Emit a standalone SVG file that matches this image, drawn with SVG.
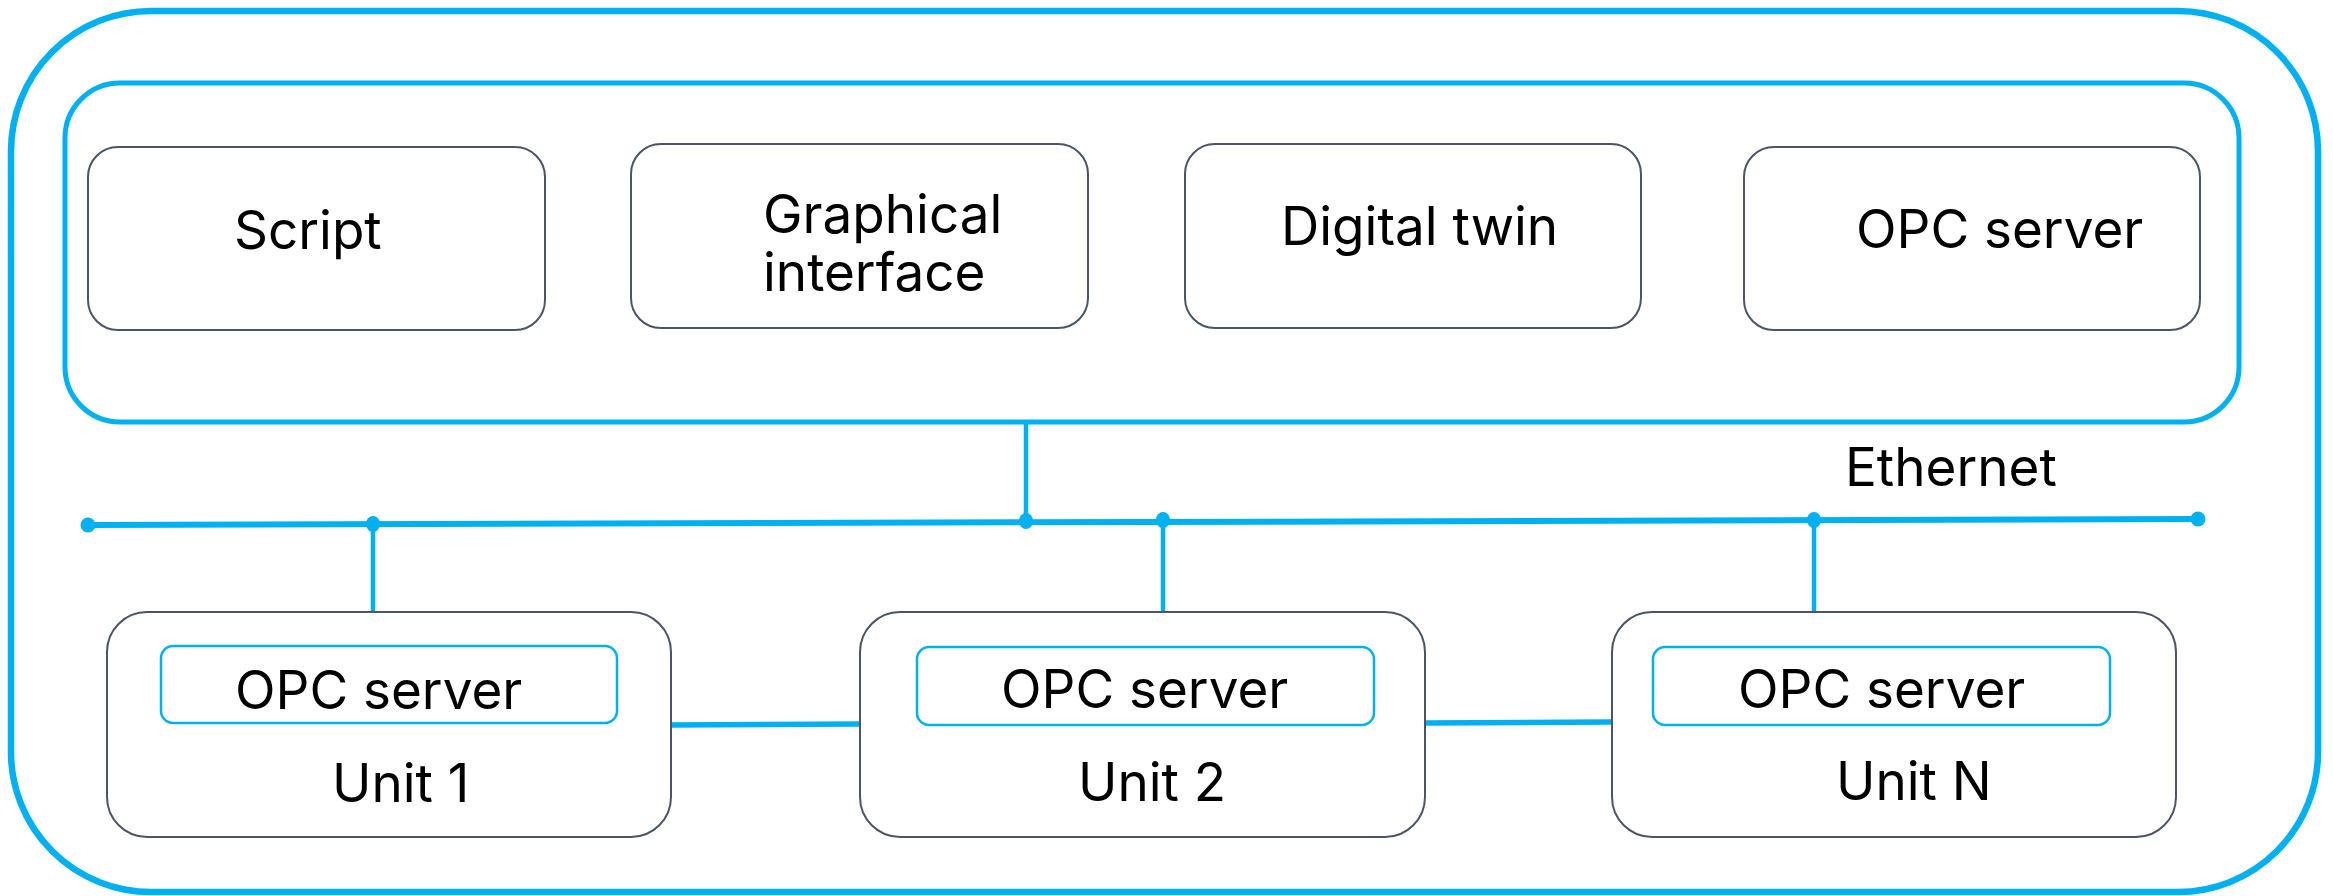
<svg xmlns="http://www.w3.org/2000/svg" width="2333" height="896" viewBox="0 0 2333 896">
  <style>
    .frame { fill: none; stroke: #00b0f0; }
    .box { fill: #ffffff; stroke: #4a5568; stroke-width: 2; }
    .ibox { fill: #ffffff; stroke: #00b0f0; stroke-width: 2.5; }
    .lbl { font-family: Inter, "Liberation Sans", sans-serif; font-size: 53px; fill: #000000; }
    .wire { stroke: #00b0f0; fill: none; }
    .dot { fill: #00b0f0; }
  </style>
  <rect width="2333" height="896" fill="#ffffff"/>
  <g id="outer-frame">
    <rect class="frame" x="11" y="11" width="2307" height="881" rx="140" ry="140" stroke-width="6.5"/>
  </g>
  <g id="software-container">
    <rect class="frame" x="65" y="83" width="2174" height="339" rx="55" ry="55" stroke-width="5"/>
  </g>
  <g id="script">
    <rect class="box" x="88" y="147" width="457" height="183" rx="30" ry="30"/>
    <text class="lbl" x="234" y="249">Script</text>
  </g>
  <g id="graphical-interface">
    <rect class="box" x="631" y="144" width="457" height="184" rx="30" ry="30"/>
    <text class="lbl" x="763" y="233">Graphical</text>
    <text class="lbl" x="763" y="291">interface</text>
  </g>
  <g id="digital-twin">
    <rect class="box" x="1185" y="144" width="456" height="184" rx="30" ry="30"/>
    <text class="lbl" x="1281" y="245">Digital twin</text>
  </g>
  <g id="opc-server-top">
    <rect class="box" x="1744" y="147" width="456" height="183" rx="30" ry="30"/>
    <text class="lbl" x="1856" y="248">OPC server</text>
  </g>
  <g id="ethernet-label">
    <text class="lbl" x="1845" y="486">Ethernet</text>
  </g>
  <g id="connectors">
    <line class="wire" x1="88" y1="525" x2="2198" y2="519" stroke-width="6"/>
    <line class="wire" x1="1026" y1="422" x2="1026" y2="522" stroke-width="4.5"/>
    <line class="wire" x1="373" y1="524" x2="373" y2="612" stroke-width="4.5"/>
    <line class="wire" x1="1163" y1="522" x2="1163" y2="612" stroke-width="4.5"/>
    <line class="wire" x1="1814" y1="520" x2="1814" y2="612" stroke-width="4.5"/>
    <line class="wire" x1="671" y1="725" x2="860" y2="724" stroke-width="5.5"/>
    <line class="wire" x1="1425" y1="723" x2="1612" y2="722" stroke-width="5.5"/>
    <circle class="dot" cx="88" cy="525" r="7.5"/>
    <circle class="dot" cx="2198" cy="519" r="7.5"/>
    <ellipse class="dot" cx="373" cy="524" rx="7" ry="8"/>
    <ellipse class="dot" cx="1026" cy="521" rx="7" ry="8"/>
    <ellipse class="dot" cx="1163" cy="520" rx="7" ry="8"/>
    <ellipse class="dot" cx="1814" cy="520" rx="7" ry="8"/>
  </g>
  <g id="unit-1">
    <rect class="box" x="107" y="612" width="564" height="225" rx="40" ry="40"/>
    <rect class="ibox" x="161" y="646" width="456" height="77" rx="12" ry="12"/>
    <text class="lbl" x="235" y="709">OPC server</text>
    <text class="lbl" x="332" y="802">Unit 1</text>
  </g>
  <g id="unit-2">
    <rect class="box" x="860" y="612" width="565" height="225" rx="40" ry="40"/>
    <rect class="ibox" x="917" y="647" width="457" height="78" rx="12" ry="12"/>
    <text class="lbl" x="1001" y="708">OPC server</text>
    <text class="lbl" x="1078" y="801">Unit 2</text>
  </g>
  <g id="unit-n">
    <rect class="box" x="1612" y="612" width="564" height="225" rx="40" ry="40"/>
    <rect class="ibox" x="1653" y="647" width="457" height="78" rx="12" ry="12"/>
    <text class="lbl" x="1738" y="708">OPC server</text>
    <text class="lbl" x="1836" y="800">Unit N</text>
  </g>
</svg>
